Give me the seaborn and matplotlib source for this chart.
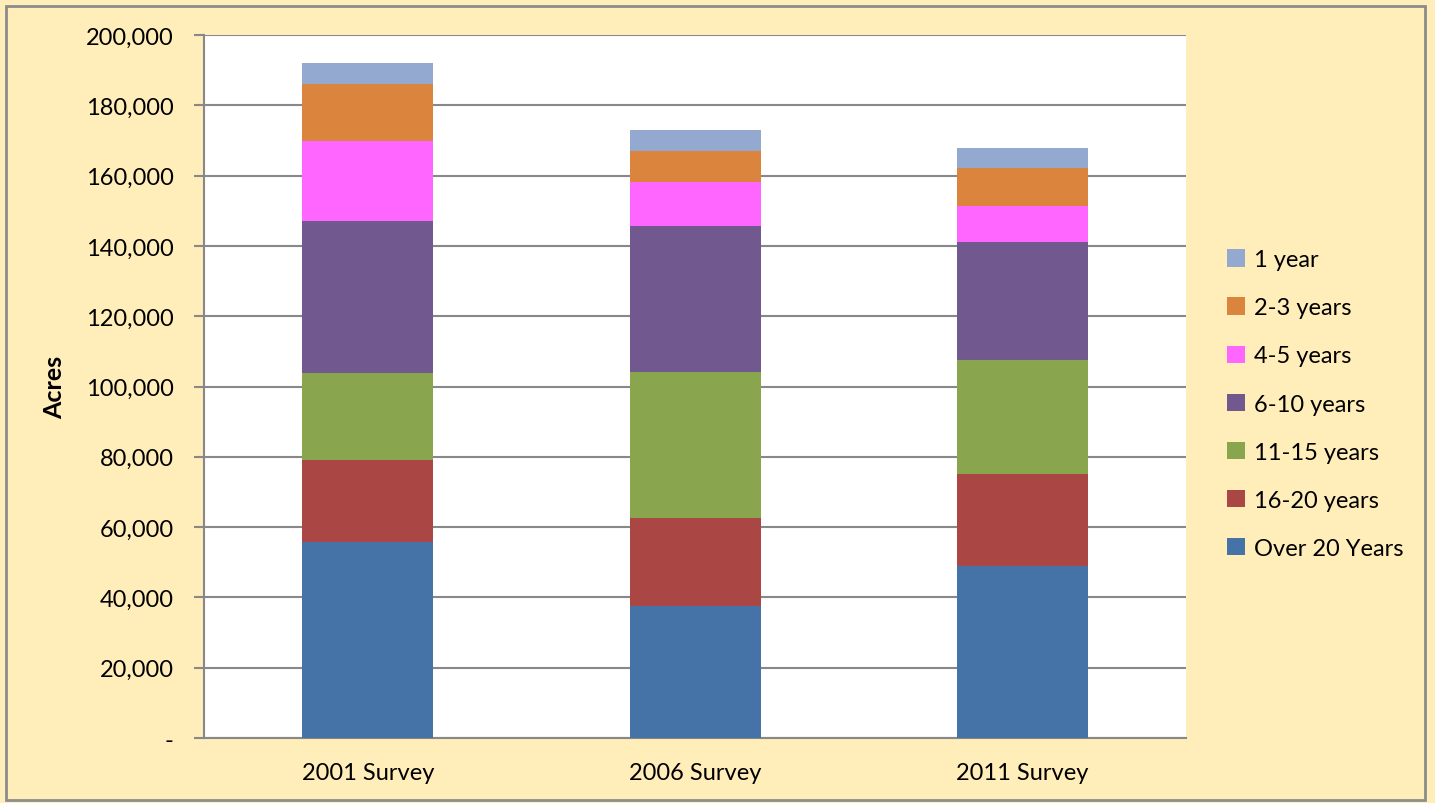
import matplotlib.pyplot as plt
import matplotlib.ticker as mticker
import pandas as pd
import seaborn as sns

surveys = ["2001 Survey", "2006 Survey", "2011 Survey"]
# stacked from bottom to top, acres
over_20 = [55800, 37600, 48900]
y16_20 = [23300, 25000, 26200]
y11_15 = [24700, 41500, 32400]
y6_10 = [43300, 41600, 33600]
y4_5 = [22700, 12500, 10300]
y2_3 = [16300, 8700, 10700]
y1 = [5900, 6200, 5700]

series = [
    ("Over 20 Years", over_20, "#4573A7"),
    ("16-20 years", y16_20, "#AA4644"),
    ("11-15 years", y11_15, "#89A54E"),
    ("6-10 years", y6_10, "#71588F"),
    ("4-5 years", y4_5, "#FF66FF"),
    ("2-3 years", y2_3, "#DB843D"),
    ("1 year", y1, "#93A9CF"),
]

sns.set_style("white")
plt.rcParams["font.family"] = ["Lato", "DejaVu Sans"]
plt.rcParams["text.color"] = "black"
plt.rcParams["axes.labelcolor"] = "black"
plt.rcParams["xtick.labelcolor"] = "black"
plt.rcParams["ytick.labelcolor"] = "black"

bg = "#FFEDBA"
fig = plt.figure(figsize=(14.35, 8.04), dpi=100, facecolor=bg)
ax = fig.add_axes([0.1422, 0.0808, 0.6843, 0.8744])
ax.set_facecolor("white")

bottom = [0, 0, 0]
for name, vals, color in series:
    df = pd.DataFrame({"survey": surveys, "acres": vals})
    sns.barplot(data=df, x="survey", y="acres", color=color, bottom=bottom,
                width=0.4, label=name, ax=ax, zorder=3, saturation=1, linewidth=0)
    bottom = [b + v for b, v in zip(bottom, vals)]

ax.set_ylim(0, 200000)
ax.set_xlim(-0.5, 2.5)
ax.yaxis.set_major_locator(mticker.MultipleLocator(20000))
ax.yaxis.set_major_formatter(mticker.FuncFormatter(lambda v, p: "-" if v == 0 else f"{int(v):,}"))
ax.yaxis.grid(True, color="#888888", linewidth=1.5, zorder=0)
ax.set_xticks([0, 1, 2])
ax.set_xticks([-0.5, 0.5, 1.5, 2.5], minor=True)
ax.tick_params(axis="x", which="major", length=0, pad=17, labelsize=17)
ax.tick_params(axis="x", which="minor", length=7, width=1.5, color="#888888", direction="out")
ax.tick_params(axis="y", length=7, width=1.5, color="#888888", direction="out", pad=15, labelsize=17, left=True)

for s in ["top", "right"]:
    ax.spines[s].set_visible(False)
for s in ["left", "bottom"]:
    ax.spines[s].set_color("#888888")
    ax.spines[s].set_linewidth(1.5)

ax.set_xlabel("")
ax.set_ylabel("Acres", fontsize=18, fontweight="bold", labelpad=14)

handles, labels = ax.get_legend_handles_labels()
ax.legend(handles[::-1], labels[::-1], loc="center left", bbox_to_anchor=(1.02, 0.475),
          frameon=False, fontsize=17, handlelength=0.75, handleheight=0.75,
          handletextpad=0.4, labelspacing=1.15)

fig.patches.append(plt.Rectangle((0.004, 0.004), 0.989, 0.987, transform=fig.transFigure,
                                 fill=False, edgecolor="#8C8C8C", linewidth=2))

fig.savefig("out.png", dpi=100, facecolor=bg)
